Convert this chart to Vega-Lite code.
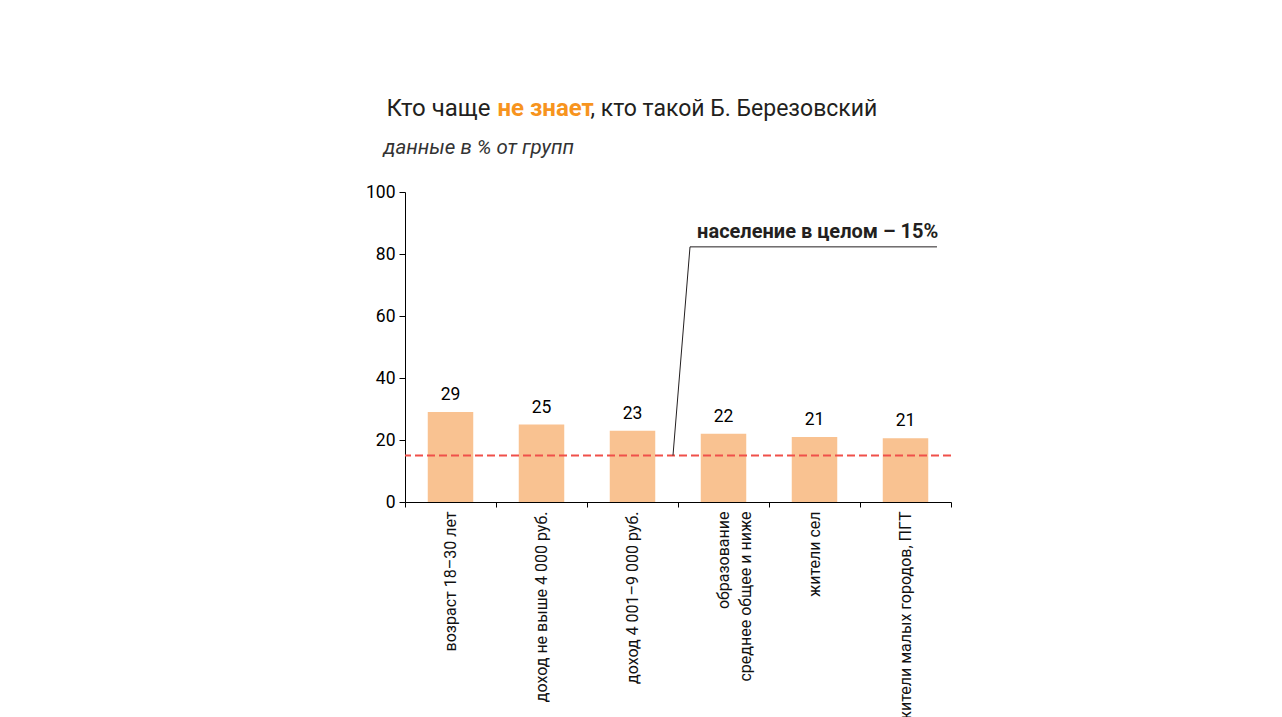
{
  "$schema": "https://vega.github.io/schema/vega-lite/v6.json",
  "autosize": {"type": "none"},
  "padding": {"left": 405, "top": 192, "right": 331, "bottom": 215},
  "width": 546,
  "height": 310,
  "background": "white",
  "config": {"view": {"stroke": null}, "font": "Roboto", "axis": {"grid": false}},
  "datasets": {
    "groups": [
      {"group": "возраст 18–30 лет", "value": 29},
      {"group": "доход не выше 4 000 руб.", "value": 25},
      {"group": "доход 4 001–9 000 руб.", "value": 23},
      {"group": "образование|среднее общее и ниже", "value": 22},
      {"group": "жители сел", "value": 21},
      {"group": "жители малых городов, ПГТ", "value": 20.6}
    ],
    "leader": [
      {"pos": 2.945, "val": 15, "ord": 1},
      {"pos": 3.132, "val": 82.3, "ord": 2},
      {"pos": 5.846, "val": 82.3, "ord": 3}
    ],
    "note": [{"pos": 5.86, "val": 85.2, "label": "население в целом – 15%"}],
    "overall": [{"value": 15}]
  },
  "layer": [
    {
      "layer": [
        {
          "data": {"name": "groups"},
          "mark": {"type": "bar", "color": "#F9C291", "width": {"band": 0.5}},
          "encoding": {
            "x": {
              "field": "group", "type": "nominal", "sort": null,
              "scale": {"paddingInner": 0, "paddingOuter": 0},
              "axis": {
                "orient": "bottom",
                "title": "данные в % от групп",
                "titleFont": "Roboto", "titleFontStyle": "italic", "titleFontWeight": "normal",
                "titleFontSize": 20.5, "titleColor": "#333333",
                "titleAngle": 0, "titleAlign": "left", "titleBaseline": "alphabetic",
                "titleX": -22, "titleY": -349,
                "labelAngle": -90, "labelFontSize": 16, "labelColor": "#111111",
                "labelExpr": "split(datum.label, '|')", "labelLineHeight": 22,
                "labelPadding": 4, "labelLimit": 400,
                "tickBand": "extent", "tickSize": 5, "tickColor": "#000000",
                "domainColor": "#000000"
              }
            },
            "y": {
              "field": "value", "type": "quantitative",
              "scale": {"domain": [0, 100], "nice": false},
              "axis": {
                "orient": "left",
                "values": [0, 20, 40, 60, 80, 100],
                "title": "не знает",
                "titleColor": "#F7941E", "titleFontWeight": "bold", "titleFontSize": 24,
                "titleFont": "Roboto", "titleAngle": 0, "titleAlign": "left",
                "titleBaseline": "alphabetic", "titleX": 92, "titleY": -77,
                "labelFontSize": 17.5, "labelColor": "#000000", "labelPadding": 4,
                "tickSize": 6, "tickColor": "#000000", "domainColor": "#000000"
              }
            }
          }
        },
        {
          "data": {"name": "groups"},
          "mark": {"type": "text", "dy": -12, "baseline": "alphabetic", "fontSize": 17.5, "color": "#000000"},
          "encoding": {
            "x": {"field": "group", "type": "nominal", "sort": null},
            "y": {"field": "value", "type": "quantitative"},
            "text": {"field": "value", "type": "quantitative", "format": ".0f"}
          }
        },
        {
          "data": {"name": "overall"},
          "mark": {"type": "rule", "color": "#F0504A", "strokeWidth": 2, "strokeDash": [8, 4]},
          "encoding": {"y": {"field": "value", "type": "quantitative"}}
        }
      ]
    },
    {
      "layer": [
        {
          "data": {"name": "leader"},
          "mark": {"type": "line", "color": "#231F20", "strokeWidth": 1},
          "encoding": {
            "x": {
              "field": "pos", "type": "quantitative",
              "scale": {"domain": [0, 6], "nice": false},
              "axis": {
                "orient": "top", "labels": false, "ticks": false, "domain": false,
                "title": ", кто такой Б. Березовский",
                "titleColor": "#231F20", "titleFontWeight": "normal", "titleFontSize": 23,
                "titleFont": "Roboto", "titleAngle": 0, "titleAlign": "left",
                "titleBaseline": "alphabetic", "titleX": 185, "titleY": -77
              }
            },
            "y": {
              "field": "val", "type": "quantitative",
              "scale": {"domain": [0, 100], "nice": false},
              "axis": {
                "orient": "right", "labels": false, "ticks": false, "domain": false,
                "title": "Кто чаще",
                "titleColor": "#231F20", "titleFontWeight": "normal", "titleFontSize": 24,
                "titleFont": "Roboto", "titleAngle": 0, "titleAlign": "right",
                "titleBaseline": "alphabetic", "titleX": -461, "titleY": -77
              }
            },
            "order": {"field": "ord", "type": "quantitative"}
          }
        },
        {
          "data": {"name": "note"},
          "mark": {"type": "text", "align": "right", "baseline": "alphabetic", "fontSize": 20, "fontWeight": "bold", "color": "#231F20"},
          "encoding": {
            "x": {"field": "pos", "type": "quantitative"},
            "y": {"field": "val", "type": "quantitative"},
            "text": {"field": "label"}
          }
        }
      ]
    }
  ],
  "resolve": {
    "scale": {"x": "independent", "y": "independent"},
    "axis": {"x": "independent", "y": "independent"}
  }
}
